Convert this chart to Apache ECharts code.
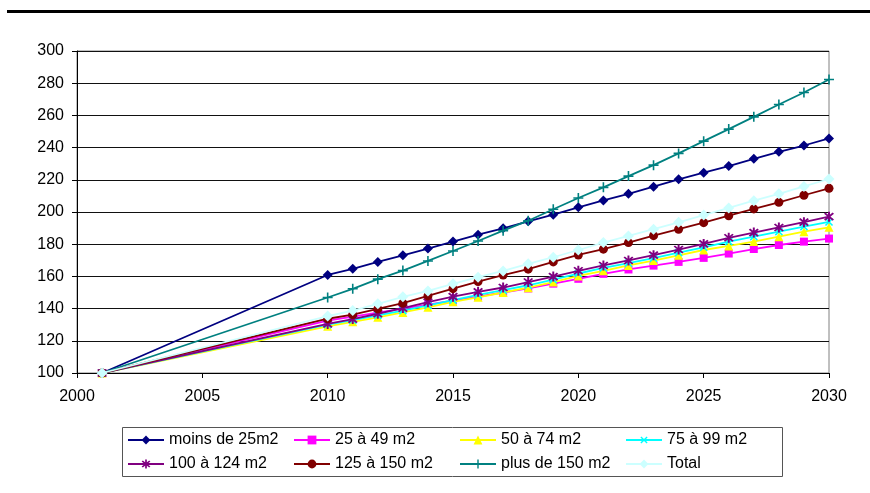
<!DOCTYPE html>
<html>
<head>
<meta charset="utf-8">
<script src="https://cdn.jsdelivr.net/npm/echarts@6/dist/echarts.min.js"></script>
<style>
  html, body { margin: 0; padding: 0; background: #fff; }
  #chart { width: 870px; height: 493px; }
</style>
</head>
<body>
<div id="chart"></div>
<script>
// Index of housing, base 100 in 2001, by dwelling floor area
const years = [2001, 2010, 2011, 2012, 2013, 2014, 2015, 2016, 2017, 2018, 2019, 2020,
               2021, 2022, 2023, 2024, 2025, 2026, 2027, 2028, 2029, 2030];

const moins25 = [100, 160.9, 164.7, 169.0, 173.1, 177.3, 181.6, 185.9, 189.9, 194.2, 198.3, 202.9,
                 207.2, 211.3, 215.7, 220.3, 224.4, 228.5, 233.0, 237.4, 241.3, 245.7];
const de25a49 = [100, 132.5, 135.0, 137.5, 140.0, 142.5, 145.0, 147.5, 150.0, 152.5, 155.5, 158.5,
                 161.6, 164.3, 166.7, 169.0, 171.5, 174.2, 177.0, 179.5, 181.6, 183.5];
const de50a74 = [100, 129.0, 131.8, 134.6, 137.6, 140.8, 144.2, 147.0, 150.0, 153.0, 156.5, 160.3,
                 163.5, 166.8, 169.8, 173.1, 176.4, 178.9, 181.6, 184.7, 187.8, 190.5];
const de75a99 = [100, 130.0, 132.8, 135.8, 138.8, 142.0, 145.3, 148.5, 151.5, 154.5, 158.0, 161.8,
                 165.3, 168.2, 171.3, 174.8, 178.1, 181.6, 184.7, 187.8, 190.9, 193.8];
const de100a124 = [100, 130.5, 133.5, 136.8, 140.3, 144.0, 147.4, 150.4, 153.1, 156.5, 159.9, 163.5,
                   166.8, 169.9, 173.2, 176.7, 180.2, 184.0, 187.2, 190.4, 193.7, 197.1];
const de125a150 = [100, 133.7, 136.3, 139.8, 143.4, 147.9, 152.4, 156.8, 160.8, 164.5, 169.0, 173.3,
                   176.9, 181.0, 185.3, 189.3, 193.4, 197.7, 201.9, 206.0, 210.4, 214.7];
const plus150 = [100, 146.9, 152.3, 158.3, 163.6, 169.6, 175.8, 182.0, 188.4, 194.6, 201.7, 208.7,
                 215.3, 222.3, 229.1, 236.4, 244.0, 251.5, 259.1, 266.8, 274.2, 282.3];
const total = [100, 135.4, 138.8, 143.0, 147.3, 151.0, 155.4, 159.5, 163.4, 167.8, 171.9, 176.4,
               181.0, 185.1, 189.3, 193.6, 198.1, 202.5, 207.0, 211.3, 215.9, 220.5];

const seriesNames = ['moins de 25m2', '25 à 49 m2', '50 à 74 m2', '75 à 99 m2',
                     '100 à 124 m2', '125 à 150 m2', 'plus de 150 m2', 'Total'];
const seriesValues = [moins25, de25a49, de50a74, de75a99, de100a124, de125a150, plus150, total];

// Marker shapes
const PLUS = 'path://M4.2,0H5.8V4.2H10V5.8H5.8V10H4.2V5.8H0V4.2H4.2Z';
const STAR = 'path://M4.2,0H5.8V10H4.2Z' +
             'M2.07,0.93L9.07,7.93L7.93,9.07L0.93,2.07Z' +
             'M7.93,0.93L9.07,2.07L2.07,9.07L0.93,7.93Z';

const styles = [
  { color: '#000080', symbol: 'diamond',  size: 10, rotate: 0 },
  { color: '#FF00FF', symbol: 'rect',     size: 8,  rotate: 0 },
  { color: '#FFFF00', symbol: 'triangle', size: 9,  rotate: 0 },
  { color: '#00FFFF', symbol: PLUS,       size: 10, rotate: 45 },
  { color: '#800080', symbol: STAR,       size: 10, rotate: 0 },
  { color: '#800000', symbol: 'circle',   size: 9,  rotate: 0 },
  { color: '#008080', symbol: PLUS,       size: 10, rotate: 0 },
  { color: '#CCFFFF', symbol: 'diamond',  size: 11, rotate: 0 }
];

const FONT = 'Liberation Sans, Arial, sans-serif';

const series = seriesNames.map((name, i) => ({
  name: name,
  type: 'line',
  data: years.map((y, k) => [y, seriesValues[i][k]]),
  symbol: styles[i].symbol,
  symbolSize: styles[i].size,
  symbolRotate: styles[i].rotate,
  showAllSymbol: true,
  color: styles[i].color,
  itemStyle: { color: styles[i].color, borderWidth: 0 },
  lineStyle: { color: styles[i].color, width: 1.8 },
  emphasis: { disabled: true },
  z: 3 + i
}));

// Legend laid out as a 4 x 2 grid
const legends = seriesNames.map((name, i) => ({
  data: [name],
  left: 127 + (i % 4) * 166,
  top: 432 + Math.floor(i / 4) * 24,
  itemWidth: 36,
  itemHeight: 11,
  itemGap: 0,
  padding: 0,
  selectedMode: false,
  textStyle: { fontFamily: FONT, fontSize: 16, color: '#000' }
}));

const chart = echarts.init(document.getElementById('chart'), null, { renderer: 'canvas' });
chart.setOption({
  animation: false,
  backgroundColor: '#fff',
  grid: {
    left: 77, right: 41, top: 51, bottom: 120,
    show: true, borderColor: '#808080', borderWidth: 1, backgroundColor: 'transparent'
  },
  xAxis: {
    type: 'value',
    min: 2000, max: 2030, interval: 5,
    axisLine: { show: true, lineStyle: { color: '#000', width: 1 } },
    axisTick: { show: true, inside: false, length: 5, lineStyle: { color: '#000' } },
    axisLabel: { fontFamily: FONT, fontSize: 16, color: '#000', margin: 16,
                 formatter: v => String(v) },
    splitLine: { show: false }
  },
  yAxis: {
    type: 'value',
    min: 100, max: 300, interval: 20,
    axisLine: { show: true, lineStyle: { color: '#000', width: 1 } },
    axisTick: { show: true, inside: false, length: 5, lineStyle: { color: '#000' } },
    axisLabel: { fontFamily: FONT, fontSize: 16, color: '#000', margin: 13 },
    splitLine: { show: true, lineStyle: { color: '#111', width: 1 } }
  },
  legend: legends,
  graphic: [
    { type: 'rect', shape: { x: 7, y: 10, width: 870, height: 3 },
      style: { fill: '#000' }, silent: true },
    { type: 'rect', shape: { x: 122.5, y: 427.5, width: 660, height: 49 },
      style: { fill: 'none', stroke: '#555', lineWidth: 1 }, silent: true, z: -1 }
  ],
  series: series
});
</script>
</body>
</html>
